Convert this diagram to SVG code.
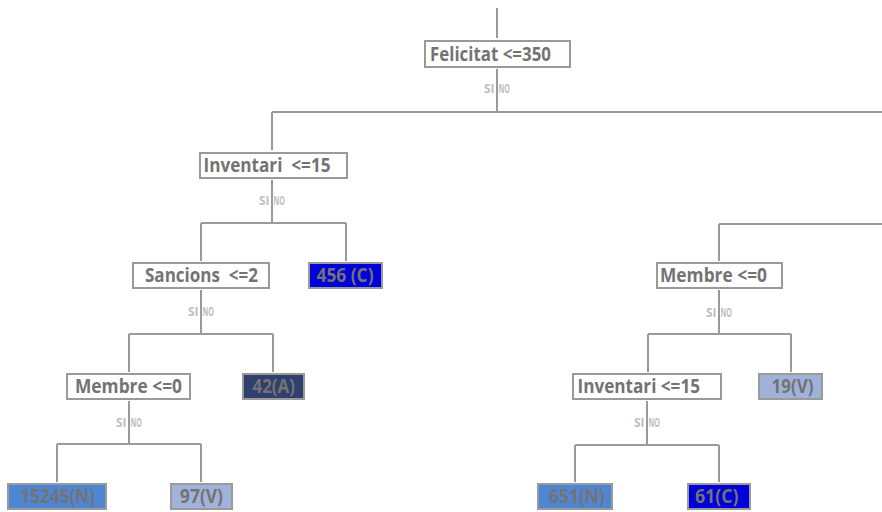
<svg xmlns="http://www.w3.org/2000/svg" width="882" height="512" viewBox="0 0 882 512">
  <style>
    .box { fill: #ffffff; stroke: #9a9a9a; stroke-width: 2; }
    .leaf { stroke: #9a9a9a; stroke-width: 2; }
    .lbl { font-family: "Open Sans", "Noto Sans", "Liberation Sans", sans-serif; font-weight: 700; font-size: 19.5px; fill: #737373; }
    .yn { font-family: "Open Sans", "Noto Sans", "Liberation Sans", sans-serif; font-weight: 700; font-size: 11.5px; fill: #bdbdbd; }
    .wire { fill: none; stroke: #9a9a9a; stroke-width: 2; }
    .cN { fill: #4f86d4; }
    .cV { fill: #a0b2da; }
    .cC { fill: #0000d8; }
    .cA { fill: #2f3f6e; }
  </style>

  <!-- connectors -->
  <g id="connectors" class="wire">
    <path d="M497 8V38"/>
    <path d="M497 69V112M272 112H882M272 112V150"/>
    <path d="M272 180V223M201 223H346M201 223V261M346 223V261"/>
    <path d="M201 290V334M129 334H273M129 334V372M273 334V372"/>
    <path d="M129 401V444M57 444H201M57 444V482M201 444V482"/>
    <path d="M719 224H882M719 224V261"/>
    <path d="M719 290V334M648 334H791M648 334V372M791 334V372"/>
    <path d="M647 401V445M575 445H719M575 445V482M719 445V482"/>
  </g>

  <!-- yes / no labels under each split -->
  <g id="branch-labels" class="yn">
    <text x="494.5" y="93" text-anchor="end" textLength="10.5" lengthAdjust="spacingAndGlyphs">SI</text><text x="498.5" y="93" textLength="11.5" lengthAdjust="spacingAndGlyphs">NO</text>
    <text x="269.5" y="205" text-anchor="end" textLength="10.5" lengthAdjust="spacingAndGlyphs">SI</text><text x="273.5" y="205" textLength="11.5" lengthAdjust="spacingAndGlyphs">NO</text>
    <text x="198.5" y="316" text-anchor="end" textLength="10.5" lengthAdjust="spacingAndGlyphs">SI</text><text x="202.5" y="316" textLength="11.5" lengthAdjust="spacingAndGlyphs">NO</text>
    <text x="126.5" y="426.5" text-anchor="end" textLength="10.5" lengthAdjust="spacingAndGlyphs">SI</text><text x="130.5" y="426.5" textLength="11.5" lengthAdjust="spacingAndGlyphs">NO</text>
    <text x="716.5" y="317" text-anchor="end" textLength="10.5" lengthAdjust="spacingAndGlyphs">SI</text><text x="720.5" y="317" textLength="11.5" lengthAdjust="spacingAndGlyphs">NO</text>
    <text x="644.5" y="426.5" text-anchor="end" textLength="10.5" lengthAdjust="spacingAndGlyphs">SI</text><text x="648.5" y="426.5" textLength="11.5" lengthAdjust="spacingAndGlyphs">NO</text>
  </g>

  <g id="n-felicitat">
    <rect class="box" x="425" y="41" width="145" height="26"/>
    <text class="lbl" x="430" y="61" textLength="121" lengthAdjust="spacingAndGlyphs">Felicitat &lt;=350</text>
  </g>
  <g id="n-inventari-1">
    <rect class="box" x="200" y="153" width="147" height="25"/>
    <text class="lbl" x="203.5" y="172" textLength="127" lengthAdjust="spacingAndGlyphs" xml:space="preserve">Inventari  &lt;=15</text>
  </g>
  <g id="n-sancions">
    <rect class="box" x="133" y="263" width="136" height="25"/>
    <text class="lbl" x="145" y="282" textLength="113" lengthAdjust="spacingAndGlyphs" xml:space="preserve">Sancions  &lt;=2</text>
  </g>
  <g id="n-456c">
    <rect class="leaf cC" x="309" y="263" width="73" height="25"/>
    <text class="lbl" x="316.5" y="282" textLength="57" lengthAdjust="spacingAndGlyphs">456 (C)</text>
  </g>
  <g id="n-membre-1">
    <rect class="box" x="67" y="374" width="123" height="25"/>
    <text class="lbl" x="75" y="392.5" textLength="107" lengthAdjust="spacingAndGlyphs">Membre &lt;=0</text>
  </g>
  <g id="n-42a">
    <rect class="leaf cA" x="243" y="374" width="61" height="25"/>
    <text class="lbl" x="252.5" y="392.5" textLength="42.5" lengthAdjust="spacingAndGlyphs">42(A)</text>
  </g>
  <g id="n-15245n">
    <rect class="leaf cN" x="8" y="484" width="98" height="25"/>
    <text class="lbl" x="20.5" y="503" textLength="74.5" lengthAdjust="spacingAndGlyphs">15245(N)</text>
  </g>
  <g id="n-97v">
    <rect class="leaf cV" x="171" y="484" width="61" height="25"/>
    <text class="lbl" x="180" y="503" textLength="43" lengthAdjust="spacingAndGlyphs">97(V)</text>
  </g>
  <g id="n-membre-2">
    <rect class="box" x="657" y="263" width="125" height="25"/>
    <text class="lbl" x="660" y="282" textLength="107" lengthAdjust="spacingAndGlyphs">Membre &lt;=0</text>
  </g>
  <g id="n-inventari-2">
    <rect class="box" x="573" y="374" width="148" height="25"/>
    <text class="lbl" x="577.5" y="392.5" textLength="122.5" lengthAdjust="spacingAndGlyphs">Inventari &lt;=15</text>
  </g>
  <g id="n-19v">
    <rect class="leaf cV" x="759" y="374" width="63" height="25"/>
    <text class="lbl" x="771.5" y="392.5" textLength="42" lengthAdjust="spacingAndGlyphs">19(V)</text>
  </g>
  <g id="n-651n">
    <rect class="leaf cN" x="538" y="484" width="74" height="25"/>
    <text class="lbl" x="549" y="503" textLength="56" lengthAdjust="spacingAndGlyphs">651(N)</text>
  </g>
  <g id="n-61c">
    <rect class="leaf cC" x="688" y="484" width="62" height="25"/>
    <text class="lbl" x="695" y="503" textLength="43.5" lengthAdjust="spacingAndGlyphs">61(C)</text>
  </g>
</svg>
